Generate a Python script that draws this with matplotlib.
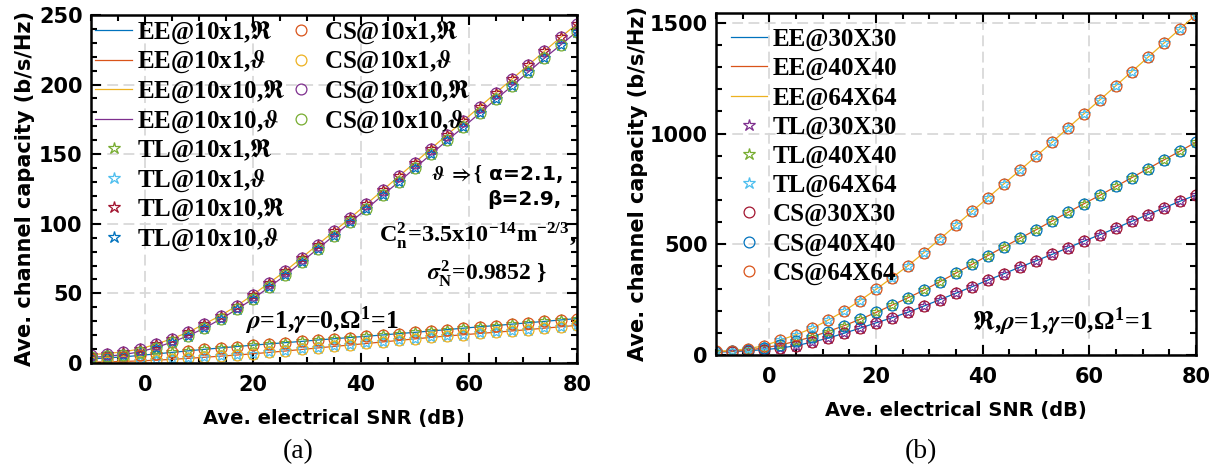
import matplotlib
matplotlib.use("Agg")
import matplotlib.pyplot as plt
from matplotlib.lines import Line2D
from matplotlib.ticker import MultipleLocator

plt.rcParams['font.family'] = ['DejaVu Sans']
plt.rcParams['font.weight'] = 'bold'
plt.rcParams['mathtext.fontset'] = 'custom'
plt.rcParams['mathtext.rm'] = 'Liberation Serif:bold'
plt.rcParams['mathtext.bf'] = 'Liberation Serif:bold'
plt.rcParams['mathtext.it'] = 'STIXGeneral:italic:bold'
plt.rcParams['mathtext.fallback'] = 'stix'

# ---- data ----
snr = [-10, -7, -4, -1, 2, 5, 8, 11, 14, 17, 20, 23, 26, 29, 32, 35, 38, 41, 44,
       47, 50, 53, 56, 59, 62, 65, 68, 71, 74, 77, 80]

# (a) 10x1 / 10x10, Re and vartheta channels
cap_10x1_re = [3.0, 3.6, 4.4, 5.4, 6.5, 7.6, 8.7, 9.8, 10.8, 11.8, 12.8, 13.7, 14.6,
               15.5, 16.5, 17.4, 18.3, 19.2, 20.1, 21.1, 22.0, 23.0, 24.0, 25.0,
               26.0, 26.9, 27.9, 28.9, 29.9, 30.9, 31.9]
cap_10x1_th = [0.6, 0.8, 1.1, 1.5, 2.0, 2.6, 3.3, 4.1, 4.9, 5.7, 6.6, 7.6, 8.6, 9.7,
               10.8, 11.9, 12.9, 14.0, 15.1, 16.2, 17.3, 18.4, 19.4, 20.3, 21.2,
               22.1, 23.0, 24.0, 25.0, 26.0, 27.0]
cap_10x10_re = [6.0, 6.8, 8.0, 10.0, 13.4, 17.5, 22.0, 28.0, 34.0, 41.0, 49.0, 57.5,
                66.0, 75.5, 85.0, 94.5, 104.0, 114.0, 124.0, 134.0, 144.0, 154.0,
                164.0, 174.0, 184.0, 194.0, 204.0, 214.0, 224.0, 234.0, 243.5]
cap_10x10_th = [4.0, 4.8, 6.0, 8.0, 11.0, 15.0, 19.5, 25.0, 31.5, 38.5, 46.0, 54.5,
                63.0, 72.5, 82.0, 91.5, 101.0, 110.5, 120.5, 130.0, 140.0, 150.0,
                160.0, 169.5, 179.5, 189.5, 199.0, 209.0, 219.0, 228.5, 238.0]

# (b) larger arrays, Re channel
cap_30x30 = [13, 15, 19, 24, 31, 42, 58, 76, 98, 121, 145, 168, 193, 221, 250, 279,
             308, 338, 367, 397, 425, 454, 484, 514, 543, 573, 604, 634, 664, 694, 722]
cap_40x40 = [15, 17, 22, 32, 45, 62, 82, 106, 132, 161, 192, 225, 258, 293, 331, 370,
             409, 449, 488, 527, 565, 605, 644, 683, 721, 761, 801, 841, 881, 920, 961]
cap_64x64 = [17, 20, 28, 42, 66, 92, 120, 157, 198, 246, 296, 349, 403, 462, 524, 586,
             648, 710, 773, 834, 897, 960, 1025, 1089, 1152, 1216, 1280, 1344, 1408,
             1472, 1537]

c_blue = '#0072BD'
c_orange = '#D95319'
c_yellow = '#EDB120'
c_purple = '#7E2F8E'
c_green = '#77AC30'
c_lblue = '#4DBEEE'
c_red = '#A2142F'

RE = r'$\Re$'
TH = r'$\vartheta$'

fig = plt.figure(figsize=(12.24, 4.68), dpi=100)
ax1 = fig.add_axes([0.0743, 0.2244, 0.397, 0.7436])
ax2 = fig.add_axes([0.585, 0.2415, 0.392, 0.731])

lw = 0.9
ms = 7.8
mew = 0.9

# ---------------- (a) ----------------
a_series = [
    (cap_10x1_re, '10x1,' + RE, c_blue, c_green, c_orange),
    (cap_10x1_th, '10x1,' + TH, c_orange, c_lblue, c_yellow),
    (cap_10x10_re, '10x10,' + RE, c_yellow, c_red, c_purple),
    (cap_10x10_th, '10x10,' + TH, c_purple, c_blue, c_green),
]
h_ee, h_tl, h_cs = [], [], []
for vals, tag, cl, cs, cc in a_series:
    h_ee += ax1.plot(snr, vals, '-', color=cl, lw=lw, label='EE@' + tag)
for vals, tag, cl, cs, cc in a_series:
    h_tl += ax1.plot(snr, vals, '*', ls='none', mfc='none', mec=cs, ms=ms + 1.5,
                     mew=mew, label='TL@' + tag)
for vals, tag, cl, cs, cc in a_series:
    h_cs += ax1.plot(snr, vals, 'o', ls='none', mfc='none', mec=cc, ms=ms,
                     mew=mew, label='CS@' + tag)

blank = [Line2D([], [], ls='none', label=' ') for _ in range(4)]
leg_font = {'family': 'Liberation Serif', 'weight': 'bold', 'size': 18}
ax1.legend(handles=h_ee + h_tl + h_cs + blank, ncol=2, loc='upper left',
           frameon=False, prop=leg_font, borderaxespad=0.0, borderpad=0.18,
           labelspacing=0.125, handlelength=1.45, handletextpad=0.2,
           columnspacing=-0.1)

ax1.set_xlim(-10, 80)
ax1.set_ylim(0, 250)
ax1.xaxis.set_major_locator(MultipleLocator(20))
ax1.xaxis.set_minor_locator(MultipleLocator(5))
ax1.yaxis.set_major_locator(MultipleLocator(50))
ax1.yaxis.set_minor_locator(MultipleLocator(10))
ax1.set_ylabel('Ave. channel capacity (b/s/Hz)', fontsize=15, fontweight='bold',
               labelpad=3)
ax1.set_xlabel('Ave. electrical SNR (dB)', fontsize=14, fontweight='bold',
               labelpad=10)

ser = {'family': 'Liberation Serif', 'weight': 'bold'}
ax1.text(0.971, 0.526, r'$\vartheta\ \Rightarrow\{$ α=2.1,', transform=ax1.transAxes,
         ha='right', va='baseline', fontsize=14.5, fontweight='bold')
ax1.text(0.969, 0.454, 'β=2.9,', transform=ax1.transAxes,
         ha='right', va='baseline', fontsize=14.5, fontweight='bold')
ax1.text(0.998, 0.348,
         r'$\mathrm{C}_\mathrm{n}^\mathrm{2}$=3.5x10$^\mathrm{-14}$m$^\mathrm{-2/3}$,',
         transform=ax1.transAxes, ha='right', va='baseline', fontsize=17.5, **ser)
ax1.text(0.938, 0.239, r'$\sigma_\mathrm{N}^\mathrm{2}$=0.9852 }',
         transform=ax1.transAxes, ha='right', va='baseline', fontsize=17, **ser)
ax1.text(0.317, 0.098, r'$\rho$=1,$\gamma$=0,$\Omega^\mathrm{1}$=1',
         transform=ax1.transAxes, ha='left', va='baseline', fontsize=18.5, **ser)

# ---------------- (b) ----------------
b_series = [
    (cap_30x30, '30X30', c_blue, c_purple, c_red),
    (cap_40x40, '40X40', c_orange, c_green, c_blue),
    (cap_64x64, '64X64', c_yellow, c_lblue, c_orange),
]
h_ee, h_tl, h_cs = [], [], []
for vals, tag, cl, cs, cc in b_series:
    h_ee += ax2.plot(snr, vals, '-', color=cl, lw=lw, label='EE@' + tag)
for vals, tag, cl, cs, cc in b_series:
    h_tl += ax2.plot(snr, vals, '*', ls='none', mfc='none', mec=cs, ms=ms + 1.5,
                     mew=mew, label='TL@' + tag)
for vals, tag, cl, cs, cc in b_series:
    h_cs += ax2.plot(snr, vals, 'o', ls='none', mfc='none', mec=cc, ms=ms,
                     mew=mew, label='CS@' + tag)
ax2.legend(handles=h_ee + h_tl + h_cs, loc='upper left', frameon=False,
           prop=leg_font, borderaxespad=0.0, borderpad=0.6, labelspacing=0.24,
           handlelength=1.45, handletextpad=0.2)

ax2.set_xlim(-10, 80)
ax2.set_ylim(0, 1545)
ax2.xaxis.set_major_locator(MultipleLocator(20))
ax2.xaxis.set_minor_locator(MultipleLocator(5))
ax2.yaxis.set_major_locator(MultipleLocator(500))
ax2.yaxis.set_minor_locator(MultipleLocator(100))
ax2.set_ylabel('Ave. channel capacity (b/s/Hz)', fontsize=15, fontweight='bold',
               labelpad=1)
ax2.set_xlabel('Ave. electrical SNR (dB)', fontsize=14, fontweight='bold',
               labelpad=10)
ax2.text(0.533, 0.073, r'$\Re$,$\rho$=1,$\gamma$=0,$\Omega^\mathrm{1}$=1',
         transform=ax2.transAxes, ha='left', va='baseline', fontsize=18.5, **ser)

for ax in (ax1, ax2):
    ax.grid(True, which='major', color='#d9d9d9', ls=(0, (6, 3)), lw=1.3)
    ax.set_axisbelow(True)
    ax.tick_params(which='both', direction='in', top=True, right=True,
                   labelsize=15, width=1.5)
    ax.tick_params(axis='x', which='both', pad=9)
    ax.tick_params(axis='y', which='both', pad=6)
    ax.tick_params(which='major', length=7)
    ax.tick_params(which='minor', length=4.5)
    for lab in ax.get_xticklabels() + ax.get_yticklabels():
        lab.set_fontweight('bold')
    for sp in ax.spines.values():
        sp.set_linewidth(1.8)

fig.text(0.244, 0.022, '(a)', ha='center', va='baseline', fontsize=20,
         family='Liberation Serif', fontweight='normal')
fig.text(0.752, 0.022, '(b)', ha='center', va='baseline', fontsize=20,
         family='Liberation Serif', fontweight='normal')

fig.savefig('out.png', dpi=100)
